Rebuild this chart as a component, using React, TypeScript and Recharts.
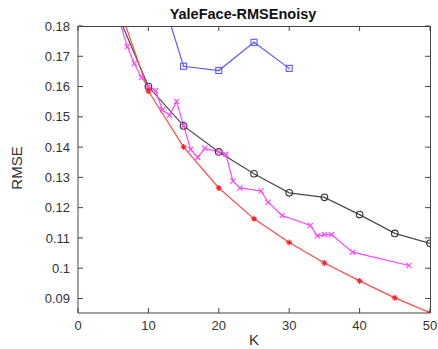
import React from "react";
import { LineChart, Line, XAxis, YAxis, ReferenceLine } from "recharts";

const xTicks = [0, 10, 20, 30, 40, 50];
const yTicks = [0.09, 0.1, 0.11, 0.12, 0.13, 0.14, 0.15, 0.16, 0.17, 0.18];
const xDomain = [0, 50];
const yDomain = [0.0852, 0.18];

const redK = [5, 10, 15, 20, 25, 30, 35, 40, 45, 50];
const redVals = [0.192, 0.1585, 0.14, 0.1265, 0.1163, 0.1085, 0.1017, 0.0958, 0.0902, 0.0853];

const blackK = [5, 10, 15, 20, 25, 30, 35, 40, 45, 50];
const blackVals = [0.1874, 0.16, 0.147, 0.1384, 0.1312, 0.1249, 0.1234, 0.1177, 0.1115, 0.1082];

const blueK = [10, 15, 20, 25, 30];
const blueVals = [0.204, 0.1667, 0.1653, 0.1746, 0.166];

const magentaK = [6, 7, 8, 9, 10, 11, 12, 13, 14, 15, 16, 17, 18, 20, 21, 22, 23, 26, 27, 29, 33, 34, 35, 36, 39, 47];
const magentaVals = [
  0.1808, 0.1732, 0.1676, 0.163, 0.16, 0.1587, 0.1523, 0.1505, 0.1551, 0.1471, 0.1392, 0.1366, 0.1396,
  0.1384, 0.1376, 0.1288, 0.1265, 0.1255, 0.1218, 0.1174, 0.1141, 0.1107, 0.1111, 0.1111, 0.1053, 0.1009,
];

const toData = (ks: number[], vs: number[]) => ks.map((k, i) => ({ k, v: vs[i] }));
const redData = toData(redK, redVals);
const blackData = toData(blackK, blackVals);
const blueData = toData(blueK, blueVals);
const magentaData = toData(magentaK, magentaVals);

const RED = "#ff4a4a";
const BLACK = "#4a4a4a";
const BLUE = "#5a5aff";
const MAGENTA = "#ff44ff";
const FRAME = "#444";
const FONT = "'Liberation Sans', Arial, sans-serif";

const TICK_DX = 0.7;
const TICK_DY = 0.00165;

const StarDot = (p: any) => {
  const { cx, cy, index } = p;
  if (cx == null || cy == null) return <g key={"s" + index} />;
  const r = 3;
  return (
    <g key={"s" + index}>
      <circle cx={cx} cy={cy} r={1.8} fill="#ff2020" />
      <line x1={cx - r} y1={cy} x2={cx + r} y2={cy} stroke="#ff2020" strokeWidth={1.2} />
      <line x1={cx} y1={cy - r} x2={cx} y2={cy + r} stroke="#ff2020" strokeWidth={1.2} />
      <line x1={cx - 2.2} y1={cy - 2.2} x2={cx + 2.2} y2={cy + 2.2} stroke="#ff2020" strokeWidth={1} />
      <line x1={cx - 2.2} y1={cy + 2.2} x2={cx + 2.2} y2={cy - 2.2} stroke="#ff2020" strokeWidth={1} />
    </g>
  );
};

const CircleDot = (p: any) => {
  const { cx, cy, index } = p;
  if (cx == null || cy == null) return <g key={"c" + index} />;
  return <circle key={"c" + index} cx={cx} cy={cy} r={3.3} fill="none" stroke="#333" strokeWidth={1.1} />;
};

const SquareDot = (p: any) => {
  const { cx, cy, index } = p;
  if (cx == null || cy == null) return <g key={"q" + index} />;
  return (
    <g key={"q" + index}>
      <rect x={cx - 3} y={cy - 3} width={6} height={6} fill="none" stroke={BLUE} strokeWidth={1.1} />
      <rect x={cx - 1} y={cy - 1} width={2} height={2} fill={BLUE} opacity={0.5} />
    </g>
  );
};

const CrossDot = (p: any) => {
  const { cx, cy, index } = p;
  if (cx == null || cy == null) return <g key={"x" + index} />;
  const r = 2.6;
  return (
    <g key={"x" + index}>
      <line x1={cx - r} y1={cy - r} x2={cx + r} y2={cy + r} stroke={MAGENTA} strokeWidth={1.1} />
      <line x1={cx - r} y1={cy + r} x2={cx + r} y2={cy - r} stroke={MAGENTA} strokeWidth={1.1} />
    </g>
  );
};

const tickStyle = { fontSize: 13, fill: "#333", fontFamily: FONT };

export default function App() {
  return (
    <div style={{ position: "absolute", left: 0, top: 0, width: 438, height: 349, background: "#fff" }}>
      <LineChart width={438} height={349} margin={{ top: 26, right: 8, left: 0, bottom: 0 }}>
        <XAxis
          type="number"
          dataKey="k"
          domain={xDomain}
          ticks={xTicks}
          allowDataOverflow
          height={36}
          tickSize={-5}
          tickMargin={13}
          stroke={FRAME}
          tick={tickStyle}
        />
        <YAxis
          type="number"
          domain={yDomain}
          ticks={yTicks}
          allowDataOverflow
          width={78}
          tickSize={-5}
          tickMargin={13}
          stroke={FRAME}
          tick={tickStyle}
        />
        {xTicks.map((t) => (
          <ReferenceLine
            key={"tx" + t}
            ifOverflow="visible"
            segment={[
              { x: t, y: yDomain[1] },
              { x: t, y: yDomain[1] - TICK_DY },
            ]}
            stroke={FRAME}
          />
        ))}
        {yTicks.map((t) => (
          <ReferenceLine
            key={"ty" + t}
            ifOverflow="visible"
            segment={[
              { x: xDomain[1], y: t },
              { x: xDomain[1] - TICK_DX, y: t },
            ]}
            stroke={FRAME}
          />
        ))}
        <Line data={blueData} dataKey="v" stroke={BLUE} strokeWidth={1.2} dot={SquareDot} isAnimationActive={false} />
        <Line data={blackData} dataKey="v" stroke={BLACK} strokeWidth={1.2} dot={CircleDot} isAnimationActive={false} />
        <Line data={magentaData} dataKey="v" stroke={MAGENTA} strokeWidth={1.2} dot={CrossDot} isAnimationActive={false} />
        <Line data={redData} dataKey="v" stroke={RED} strokeWidth={1.2} dot={StarDot} isAnimationActive={false} />
      </LineChart>
      <div
        style={{
          position: "absolute",
          left: 78,
          top: 26,
          width: 352.5,
          height: 287,
          boxSizing: "border-box",
          borderTop: "1px solid " + FRAME,
          borderRight: "1px solid " + FRAME,
          pointerEvents: "none",
        }}
      />
      <div
        style={{
          position: "absolute",
          left: 143,
          width: 200,
          top: 5,
          textAlign: "center",
          fontFamily: FONT,
          fontWeight: "bold",
          fontSize: 14.5,
          color: "#111",
          lineHeight: "18px",
        }}
      >
        YaleFace-RMSEnoisy
      </div>
      <div
        style={{
          position: "absolute",
          left: 204,
          width: 100,
          top: 331,
          textAlign: "center",
          fontFamily: FONT,
          fontSize: 15,
          color: "#333",
          lineHeight: "18px",
        }}
      >
        K
      </div>
      <div
        style={{
          position: "absolute",
          left: 17 - 50,
          width: 100,
          top: 168 - 9,
          textAlign: "center",
          fontFamily: FONT,
          fontSize: 15,
          color: "#333",
          lineHeight: "18px",
          transform: "rotate(-90deg)",
        }}
      >
        RMSE
      </div>
    </div>
  );
}
